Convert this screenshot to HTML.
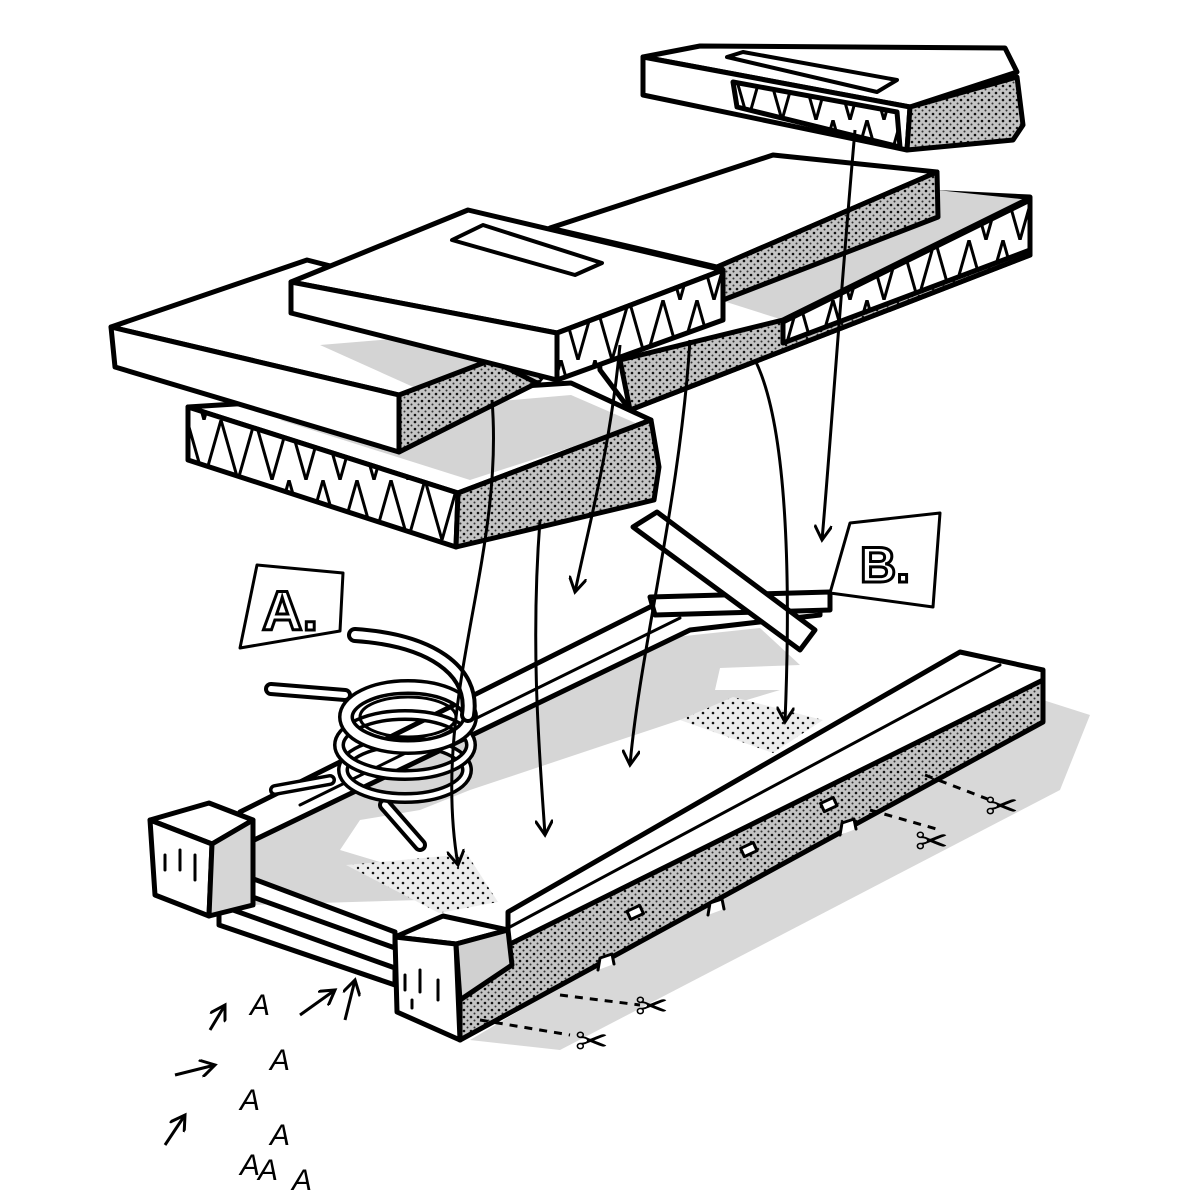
<!DOCTYPE html>
<html><head><meta charset="utf-8"><style>
html,body{margin:0;padding:0;background:#fff}
svg{display:block}
</style></head><body>
<svg width="1200" height="1200" viewBox="0 0 1200 1200" xmlns="http://www.w3.org/2000/svg">
<defs>
<pattern id="dots" width="7" height="7" patternUnits="userSpaceOnUse">
<rect width="7" height="7" fill="#c4c4c4"/><circle cx="2" cy="2" r="1.3" fill="#111"/><circle cx="5.5" cy="5.5" r="1" fill="#333"/></pattern>
<pattern id="dots2" width="10" height="10" patternUnits="userSpaceOnUse">
<rect width="10" height="10" fill="#ececec"/><circle cx="3" cy="3" r="1.3" fill="#111"/><circle cx="8" cy="8" r="1.2" fill="#111"/></pattern>
<pattern id="tri" width="34" height="60" patternUnits="userSpaceOnUse">
<rect width="34" height="60" fill="#fff"/><path d="M0 60 L17 0 L34 60" fill="none" stroke="#000" stroke-width="3"/></pattern>
<marker id="ah" viewBox="0 0 12 12" refX="10" refY="6" markerWidth="6" markerHeight="6" orient="auto"><path d="M0 0 L10 6 L0 12" fill="none" stroke="#000" stroke-width="2"/></marker>
</defs>
<g stroke="#000" stroke-width="5" stroke-linejoin="round" stroke-linecap="round">

<!-- ground shadows -->
<polygon points="1043,700 1090,715 1060,790 560,1050 470,1040" fill="#d8d8d8" stroke="none"/>

<!-- ===== BASE FRAME ===== -->
<polygon points="215,845 660,600 830,595 1000,645 508,930 395,937" fill="#fff" stroke="none"/>
<!-- gray shadows on floor -->
<polygon points="250,842 680,631 680,720 470,790 420,810 360,820 340,850 440,880 420,900 250,905" fill="#d6d6d6" stroke="none"/>
<polygon points="600,645 760,628 800,665 720,668 715,690 780,690 680,720 600,720" fill="#d6d6d6" stroke="none"/>
<!-- dotted patches -->
<polygon points="346,865 467,854 498,902 439,913" fill="url(#dots2)" stroke="none"/>
<polygon points="680,720 733,697 823,720 773,753" fill="url(#dots2)" stroke="none"/>
<!-- left side rail -->
<polygon points="240,812 660,602 820,595 820,615 690,630 250,842" fill="#fff"/>
<line x1="300" y1="805" x2="680" y2="618" stroke-width="3"/>
<!-- slats -->
<polygon points="219,866 395,932 395,948 219,885" fill="#fff"/>
<polygon points="219,905 395,968 395,985 219,925" fill="#fff"/>
<!-- left end block -->
<polygon points="150,820 209,803 253,820 212,844" fill="#fff"/>
<polygon points="150,820 212,844 209,916 155,895" fill="#fff"/>
<polygon points="212,844 253,820 253,905 209,916" fill="#d6d6d6"/>
<!-- front rail -->
<polygon points="460,962 508,940 1043,673 1043,722 460,1040" fill="url(#dots)"/>
<polygon points="508,912 960,652 1043,670 1043,680 508,945" fill="#fff"/>
<line x1="508" y1="928" x2="1000" y2="665" stroke-width="3"/>
<!-- front block -->
<polygon points="395,937 443,916 508,930 456,944" fill="#fff"/>
<polygon points="395,937 456,944 460,1040 397,1012" fill="#fff"/>
<polygon points="456,944 508,930 512,965 460,1000" fill="#d0d0d0"/>
<g stroke-width="3">
<line x1="405" y1="975" x2="405" y2="990"/><line x1="420" y1="970" x2="420" y2="992"/><line x1="438" y1="980" x2="438" y2="1000"/><line x1="412" y1="1000" x2="412" y2="1008"/>
<line x1="165" y1="855" x2="165" y2="870"/><line x1="180" y1="850" x2="180" y2="870"/><line x1="195" y1="855" x2="195" y2="880"/>
</g>
<g fill="#fff" stroke-width="3">
<path d="M598 970 l2 -12 l12 -4 l2 10"/><path d="M708 915 l2 -12 l12 -4 l2 10"/><path d="M840 835 l2 -12 l12 -4 l2 10"/>
<rect x="628" y="908" width="14" height="9" transform="rotate(-25 635 912)"/><rect x="742" y="845" width="14" height="9" transform="rotate(-25 749 850)"/><rect x="822" y="800" width="14" height="9" transform="rotate(-25 829 805)"/>
</g>

<!-- ===== SLABS ===== -->
<polygon points="188,407 571,383 651,420 458,493" fill="#fff"/>
<polygon points="280,420 571,395 640,425 470,480" fill="#d4d4d4" stroke="none"/>
<polygon points="188,407 458,493 456,547 188,460" fill="url(#tri)"/>
<polygon points="458,493 651,420 659,467 654,500 456,547" fill="url(#dots)"/>

<polygon points="590,225 780,185 1030,197 1030,255 630,410 600,370" fill="#fff"/>
<polygon points="720,300 937,190 1030,200 783,320" fill="#d4d4d4" stroke="none"/>
<polygon points="620,360 783,320 1030,198 1030,255 630,410" fill="url(#dots)"/>
<polygon points="783,322 1030,200 1030,250 783,343" fill="url(#tri)"/>
<polygon points="550,228 773,155 937,172 717,267" fill="#fff"/>
<polygon points="717,267 937,172 938,217 723,300" fill="url(#dots)"/>

<polygon points="111,327 307,260 580,330 537,383 399,395" fill="#fff"/>
<polygon points="320,345 500,330 540,380 420,390" fill="#d4d4d4" stroke="none"/>
<polygon points="111,327 399,395 399,452 115,367" fill="#fff"/>
<polygon points="399,395 491,360 537,383 399,452" fill="url(#dots)"/>

<polygon points="291,282 468,210 723,270 557,333" fill="#fff"/>
<polygon points="291,282 557,333 557,380 291,313" fill="#fff"/>
<polygon points="557,333 723,270 723,320 557,380" fill="url(#tri)"/>
<polygon points="452,240 483,225 602,263 575,275" fill="#fff" stroke-width="4"/>

<polygon points="643,57 700,46 1005,48 1017,72 910,107" fill="#fff"/>
<polygon points="643,57 910,107 907,150 643,95" fill="#fff"/>
<polygon points="733,82 897,112 900,147 737,107" fill="url(#tri)"/>
<polygon points="910,107 1017,77 1023,125 1013,140 907,150" fill="url(#dots)"/>
<polygon points="727,57 743,52 897,80 877,92" fill="#fff" stroke-width="4"/>

<!-- sticks near B -->
<polygon points="650,597 830,592 830,610 655,615" fill="#fff"/>
<polygon points="633,527 657,512 815,630 800,650" fill="#fff"/>

<!-- spring -->
<g fill="none">
<path d="M271 689 L345 695" stroke-width="14"/><path d="M271 689 L345 695" stroke="#fff" stroke-width="6"/>
<path d="M275 790 L330 780" stroke-width="12"/><path d="M275 790 L330 780" stroke="#fff" stroke-width="5"/>
<path d="M385 805 L420 845" stroke-width="14"/><path d="M385 805 L420 845" stroke="#fff" stroke-width="6"/>
<ellipse cx="405" cy="770" rx="62" ry="28" stroke-width="12"/><ellipse cx="405" cy="770" rx="62" ry="28" stroke="#fff" stroke-width="5"/>
<ellipse cx="405" cy="745" rx="66" ry="30" stroke-width="12"/><ellipse cx="405" cy="745" rx="66" ry="30" stroke="#fff" stroke-width="5"/>
<ellipse cx="408" cy="717" rx="62" ry="30" stroke-width="16"/><ellipse cx="408" cy="717" rx="62" ry="30" stroke="#fff" stroke-width="9"/>
<ellipse cx="408" cy="717" rx="48" ry="20" stroke-width="3"/>
<path d="M355 635 C430 640 475 670 468 715" stroke-width="16"/><path d="M355 635 C430 640 475 670 468 715" stroke="#fff" stroke-width="8"/>
</g>

<polygon points="257,565 343,573 340,631 240,648" fill="#fff" stroke-width="3"/>
<polygon points="850,523 940,513 933,607 830,593" fill="#fff" stroke-width="3"/>
</g>
<text x="262" y="630" font-family="Liberation Sans, sans-serif" font-weight="bold" font-size="56" fill="#fff" stroke="#000" stroke-width="3">A.</text>
<text x="860" y="582" font-family="Liberation Sans, sans-serif" font-weight="bold" font-size="50" fill="#fff" stroke="#000" stroke-width="3">B.</text>

<g fill="none" stroke="#000" stroke-width="3" marker-end="url(#ah)">
<path d="M855 130 C840 300 830 450 822 540"/>
<path d="M755 360 C790 430 790 600 785 722"/>
<path d="M690 340 C680 500 640 650 630 765"/>
<path d="M620 345 C610 450 590 520 575 592"/>
<path d="M540 520 C530 650 540 760 545 835"/>
<path d="M492 400 C505 560 430 700 458 865"/>
<path d="M210 1030 L225 1005"/><path d="M175 1075 L215 1065"/><path d="M165 1145 L185 1115"/>
<path d="M300 1015 L335 990"/><path d="M345 1020 L355 980"/>
</g>
<g fill="none" stroke="#000" stroke-width="3" stroke-dasharray="8,7">
<path d="M480 1020 L570 1035"/><path d="M560 995 L640 1005"/>
<path d="M870 810 L940 830"/><path d="M925 775 L990 800"/>
</g>
<g font-family="Liberation Sans, sans-serif" font-size="30" font-style="italic" fill="#000">
<text x="250" y="1015">A</text><text x="270" y="1070">A</text><text x="240" y="1110">A</text><text x="270" y="1145">A</text><text x="240" y="1175">A</text><text x="258" y="1180">A</text><text x="292" y="1190">A</text>
</g>
<g font-family="DejaVu Sans, sans-serif" font-size="40" fill="#000">
<text x="575" y="1055">✂</text><text x="635" y="1020">✂</text><text x="915" y="855">✂</text><text x="985" y="820">✂</text>
</g>
</svg>
</body></html>
